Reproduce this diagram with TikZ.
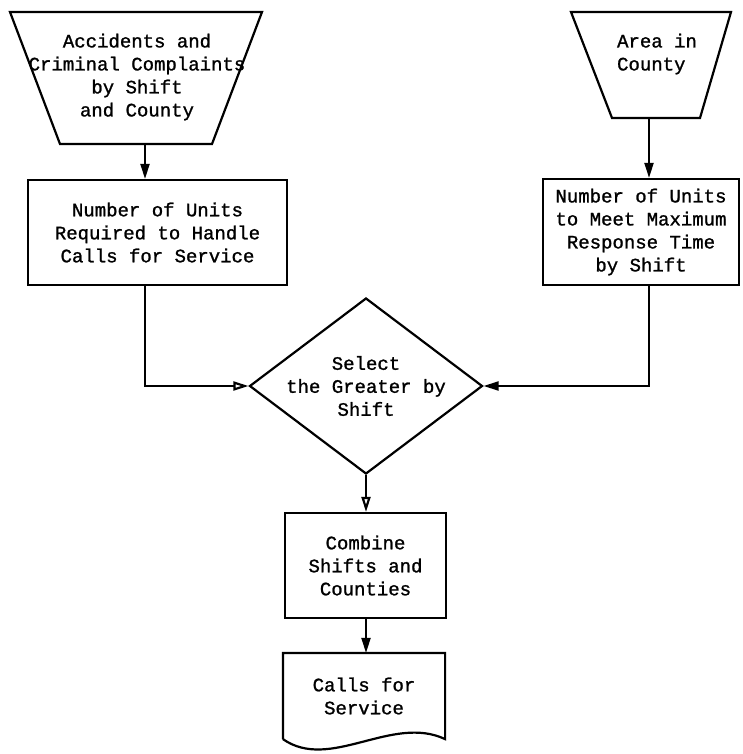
\documentclass[tikz,border=0pt]{standalone}
\usepackage{fontspec}
\setmainfont[FakeBold=1.2,AutoFakeBold=1.2]{Liberation Mono}
\usetikzlibrary{shapes.geometric,arrows.meta}
\begin{document}
\begin{tikzpicture}[x=1pt,y=-1pt,line width=2.2pt,
    txt/.style={font=\fontsize{19}{23}\selectfont\bfseries,align=center},
    box/.style={txt,draw,minimum width=#1,minimum height=105pt,inner sep=0pt},
    dec/.style={txt,draw,diamond,aspect=1.32,inner sep=-3pt,minimum width=233pt,minimum height=176pt},
    tip/.style={-{Triangle[length=15pt,width=9pt]}},
    otip/.style={-{Triangle[open,length=15pt,width=9pt]}}]
    \useasboundingbox(0,0)rectangle(743,754);
    \draw(10,12)--(262,12)--(212,144)--(60,144)--cycle;
    \node[txt](acc)at(137,77){Accidents and\\Criminal Complaints\\by Shift\\and County};
    \coordinate(accB)at(145,144);
    \draw(571,12)--(731,12)--(700,118)--(612,118)--cycle;
    \node[txt,align=left](area)at(657,54){Area in\\County};
    \coordinate(areaB)at(649,118);
    \node[box=259pt](units1)at(157.5,232.5){Number of Units\\Required to Handle\\Calls for Service};
    \node[box=196pt,minimum height=106pt](units2)at(641,232){Number of Units\\to Meet Maximum\\Response Time\\by Shift};
    \node[dec](select)at(366,386){Select\\the Greater by\\Shift};
    \node[box=161pt](combine)at(365.5,565.5){Combine\\Shifts and\\Counties};
    \node[txt,minimum width=160pt,minimum height=84pt,inner sep=0pt](calls)at(364,696){Calls for\\Service};
    \draw(calls.south west)--(calls.north west)--(calls.north east)--(calls.south east)
        ..controls(392,714)and(330,772)..(calls.south west);
    \draw[tip](accB)--(accB|-units1.north);
    \draw[tip](areaB)--(areaB|-units2.north);
    \draw[otip](accB|-units1.south)|-(select.west);
    \draw[tip](areaB|-units2.south)|-(select.east);
    \draw[otip](select.south)--(select.south|-combine.north);
    \draw[tip](select.south|-combine.south)--(select.south|-calls.north);
\end{tikzpicture}
\end{document}
